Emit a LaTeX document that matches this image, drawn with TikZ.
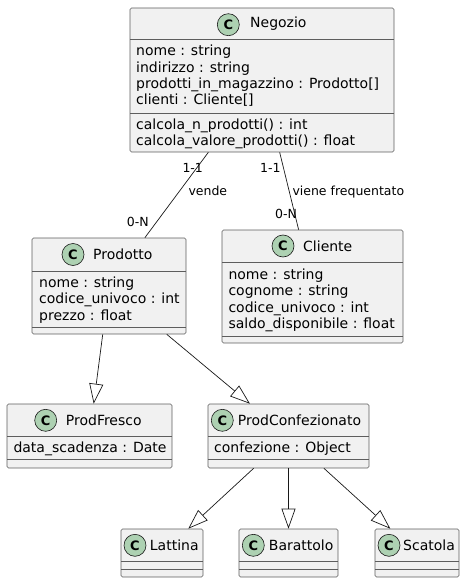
\documentclass[tikz,border=0pt]{standalone}
\usepackage{fontspec}
\setmainfont{DejaVu Sans}
\usetikzlibrary{arrows.meta}
\definecolor{clsfill}{HTML}{F1F1F1}
\definecolor{clsline}{HTML}{181818}
\definecolor{circfill}{HTML}{ADD1B2}
\tikzset{
  cls/.style={draw=clsline!70, line width=0.6pt, fill=clsfill, rounded corners=1.5pt, inner sep=0pt},
  sepline/.style={draw=clsline!70, line width=0.6pt},
  circ/.style={circle, draw=clsline, line width=0.6pt, fill=circfill, minimum size=22pt, inner sep=0pt, font=\fontsize{13}{13}\selectfont\bfseries},
  ttl/.style={anchor=base west, inner sep=0pt, font=\fontsize{14}{16}\selectfont},
  attr/.style={anchor=base west, inner sep=0pt, font=\fontsize{14}{16}\selectfont},
  lbl/.style={anchor=base west, inner sep=0pt, font=\fontsize{12.5}{14}\selectfont},
  edge/.style={draw=clsline, line width=0.7pt},
  inh/.style={edge, -{Triangle[open, length=20pt, width=14pt, fill=white]}}
}
\begin{document}
\begin{tikzpicture}[x=1pt, y=-1pt]
\useasboundingbox (0,0) rectangle (465,583);
% class boxes
\node[cls, minimum width=264pt, minimum height=144pt] (neg) at (262,80) {};
\node[cls, minimum width=154pt, minimum height=96pt] (prod) at (109,286) {};
\node[cls, minimum width=181pt, minimum height=113pt] (cli) at (312.5,286.5) {};
\node[cls, minimum width=165pt, minimum height=64pt] (fresco) at (89.5,436) {};
\node[cls, minimum width=161pt, minimum height=64pt] (conf) at (288.5,436) {};
\node[cls, minimum width=82pt, minimum height=48pt] (latt) at (162,553) {};
\node[cls, minimum width=99pt, minimum height=48pt] (bar) at (288.5,553) {};
\node[cls, minimum width=84pt, minimum height=48pt] (sca) at (417,553) {};
% separators
\draw[sepline] (130,39) -- (394,39);
\draw[sepline] (130,113) -- (394,113);
\draw[sepline] (32,271) -- (186,271);
\draw[sepline] (32,327) -- (186,327);
\draw[sepline] (222,262) -- (403,262);
\draw[sepline] (222,336) -- (403,336);
\draw[sepline] (7,436) -- (172,436);
\draw[sepline] (7,459) -- (172,459);
\draw[sepline] (208,436) -- (369,436);
\draw[sepline] (208,459) -- (369,459);
\draw[sepline] (121,561) -- (203,561);
\draw[sepline] (121,569) -- (203,569);
\draw[sepline] (239,561) -- (338,561);
\draw[sepline] (239,569) -- (338,569);
\draw[sepline] (375,561) -- (459,561);
\draw[sepline] (375,569) -- (459,569);
% headers
\node[circ] (negC) at (228.3,24.7) {C};
\node[ttl] (negT) at (250,28) {Negozio};
\node[circ] (prodC) at (73,254.5) {C};
\node[ttl] (prodT) at (93,259.3) {Prodotto};
\node[circ] (cliC) at (283,246) {C};
\node[ttl] (cliT) at (303,251) {Cliente};
\node[circ] (frescoC) at (45.7,420.3) {C};
\node[ttl] (frescoT) at (65.7,425.3) {ProdFresco};
\node[circ] (confC) at (222.3,420.3) {C};
\node[ttl] (confT) at (237.7,425.3) {ProdConfezionato};
\node[circ] (lattC) at (135,545.3) {C};
\node[ttl] (lattT) at (149.7,550.3) {Lattina};
\node[circ] (barC) at (253.3,545.3) {C};
\node[ttl] (barT) at (268.7,550.3) {Barattolo};
\node[circ] (scaC) at (389,545.3) {C};
\node[ttl] (scaT) at (403,550.3) {Scatola};
% attributes
\node[attr] (n1) at (136,56) {nome : string};
\node[attr] (n2) at (136,72.3) {indirizzo : string};
\node[attr] (n3) at (136,88.6) {prodotti\_in\_magazzino : Prodotto[]};
\node[attr] (n4) at (136,105) {clienti : Cliente[]};
\node[attr] (n5) at (136,129.8) {calcola\_n\_prodotti() : int};
\node[attr] (n6) at (136,146) {calcola\_valore\_prodotti() : float};
\node[attr] (p1) at (39,287.3) {nome : string};
\node[attr] (p2) at (39,303.6) {codice\_univoco : int};
\node[attr] (p3) at (39,320) {prezzo : float};
\node[attr] (c1) at (228.3,279.3) {nome : string};
\node[attr] (c2) at (228.3,295.6) {cognome : string};
\node[attr] (c3) at (228.3,312) {codice\_univoco : int};
\node[attr] (c4) at (228.3,328.2) {saldo\_disponibile : float};
\node[attr] (f1) at (13.3,452.7) {data\_scadenza : Date};
\node[attr] (k1) at (214,452.7) {confezione : Object};
% connectors
\draw[edge] (neg) -- (prod);
\draw[edge] (neg) -- (cli);
\draw[inh] (prod) -- (fresco);
\draw[inh] (prod) -- (conf);
\draw[inh] (conf) -- (latt);
\draw[inh] (conf) -- (bar);
\draw[inh] (conf) -- (sca);
% labels
\node[lbl] (l1) at (182.3,172.7) {1-1};
\node[lbl] (l2) at (188.3,195.7) {vende};
\node[lbl] (l3) at (126.7,226.7) {0-N};
\node[lbl] (l4) at (260,172.7) {1-1};
\node[lbl] (l5) at (292.3,195.7) {viene frequentato};
\node[lbl] (l6) at (275,218.3) {0-N};
\end{tikzpicture}
\end{document}
